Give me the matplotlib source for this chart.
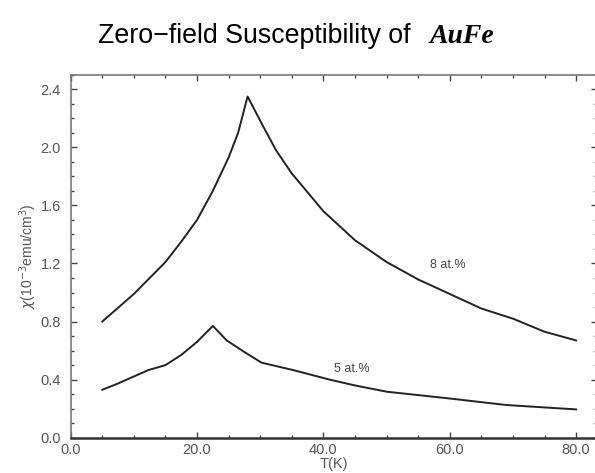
import matplotlib
matplotlib.use("Agg")
import matplotlib.pyplot as plt
from matplotlib.ticker import MultipleLocator, FormatStrFormatter

# temperatures (K) and susceptibility (10^-3 emu/cm^3)
t_8 = [5, 10, 15, 17.5, 20, 22.5, 25, 26.5, 28, 30.4, 32.5, 35, 40, 45, 50,
       55, 60, 65, 70, 75, 80]
chi_8 = [0.80, 0.99, 1.21, 1.35, 1.50, 1.70, 1.93, 2.10, 2.35, 2.15, 1.98,
         1.82, 1.56, 1.36, 1.21, 1.09, 0.99, 0.89, 0.82, 0.73, 0.67]

t_5 = [5, 7.3, 12.3, 15, 17.5, 20, 22.5, 24.7, 27.5, 30.2, 35.2, 41, 45, 50,
       60, 69, 80]
chi_5 = [0.33, 0.37, 0.466, 0.50, 0.57, 0.66, 0.77, 0.67, 0.59, 0.517,
         0.466, 0.40, 0.36, 0.317, 0.27, 0.225, 0.195]

curve_labels = ["8 at.%", "5 at.%"]
label_pos = [(59.7, 1.19), (44.5, 0.47)]

plt.rcParams['font.family'] = ['Liberation Sans', 'DejaVu Sans']
grey = '#555555'

fig = plt.figure(figsize=(5.95, 4.73), dpi=100)
ax = fig.add_axes([0.1188, 0.0746, 0.8845, 0.7674])

ax.plot(t_8, chi_8, color='#222222', lw=1.4)
ax.plot(t_5, chi_5, color='#222222', lw=1.4)

for txt, (x, y) in zip(curve_labels, label_pos):
    ax.text(x, y, txt, ha='center', va='center', fontsize=9, color='#444444')

ax.set_xlim(0, 83.3)
ax.set_ylim(0, 2.5)
ax.xaxis.set_major_locator(MultipleLocator(20))
ax.xaxis.set_minor_locator(MultipleLocator(5))
ax.yaxis.set_major_locator(MultipleLocator(0.4))
ax.yaxis.set_minor_locator(MultipleLocator(0.1))
ax.xaxis.set_major_formatter(FormatStrFormatter('%.1f'))
ax.yaxis.set_major_formatter(FormatStrFormatter('%.1f'))

ax.tick_params(which='both', direction='in', top=True, right=True,
               colors='#444444', labelcolor=grey, labelsize=10.5)
ax.tick_params(which='major', length=4, width=1)
ax.tick_params(which='minor', length=2.5, width=1)
ax.tick_params(axis='y', pad=7)
ax.tick_params(axis='x', pad=4)

for side in ['top', 'left', 'right']:
    ax.spines[side].set_color('#777777')
    ax.spines[side].set_linewidth(1.2)
ax.spines['bottom'].set_color('#333333')
ax.spines['bottom'].set_linewidth(1.8)

ax.set_xlabel('T(K)', fontsize=10.5, color=grey, labelpad=0)
ax.set_ylabel(r'$\chi$(10$^{-3}$emu/cm$^{3}$)', fontsize=10, color=grey,
              labelpad=1)

# title in two pieces: sans text plus bold italic serif formula
fig.text(0.69, 0.909, 'Zero\u2212field Susceptibility of', ha='right',
         va='baseline', fontsize=19.3, color='black')
fig.text(0.722, 0.909, 'AuFe', ha='left', va='baseline', fontsize=20,
         family='Liberation Serif', weight='bold', style='italic',
         color='black')

plt.savefig('out.png', dpi=100)
